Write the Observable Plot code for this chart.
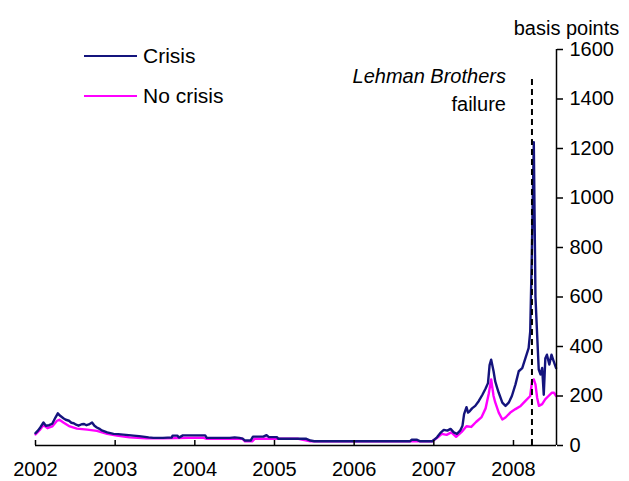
<!DOCTYPE html>
<html>
<head>
<meta charset="utf-8">
<script src="https://cdn.jsdelivr.net/npm/d3@7"></script>
<script src="https://cdn.jsdelivr.net/npm/@observablehq/plot@0.6"></script>
<style>
  html, body { margin: 0; padding: 0; background: #fff; }
  #wrap { position: relative; width: 629px; height: 481px; font-family: "Liberation Sans", Arial, sans-serif; }
  .leg { position: absolute; left: 84px; display: flex; align-items: center; font-size: 21px; color: #000; }
  .leg span.sw { display: inline-block; width: 53px; height: 0; border-top: 2px solid; margin-right: 6px; }
</style>
</head>
<body>
<div id="wrap"></div>
<script>
// ---- data (decimal years, basis points) ----
const crisisYear = [2002.00,2002.03,2002.06,2002.10,2002.13,2002.17,2002.21,2002.25,2002.28,2002.31,2002.35,2002.38,2002.42,2002.45,2002.48,2002.51,2002.54,2002.58,2002.61,2002.64,2002.67,2002.71,2002.74,2002.77,2002.81,2002.84,2002.90,2002.98,2003.04,2003.10,2003.17,2003.23,2003.30,2003.35,2003.42,2003.48,2003.55,2003.60,2003.66,2003.71,2003.72,2003.78,2003.80,2003.85,2004.00,2004.13,2004.15,2004.44,2004.50,2004.56,2004.60,2004.63,2004.70,2004.73,2004.86,2004.90,2004.93,2005.03,2005.05,2005.40,2005.45,2005.50,2006.70,2006.72,2006.79,2006.83,2006.98,2007.01,2007.04,2007.08,2007.125,2007.17,2007.21,2007.25,2007.29,2007.33,2007.36,2007.38,2007.41,2007.43,2007.45,2007.48,2007.52,2007.565,2007.61,2007.65,2007.68,2007.70,2007.72,2007.75,2007.77,2007.795,2007.815,2007.86,2007.90,2007.94,2007.98,2008.025,2008.066,2008.11,2008.15,2008.19,2008.21,2008.23,2008.255,2008.276,2008.297,2008.317,2008.34,2008.36,2008.38,2008.40,2008.42,2008.45,2008.477,2008.505,2008.535];
const crisisBp   = [50,60,73,93,80,82,88,113,130,120,110,104,100,92,90,84,80,86,87,82,85,93,80,73,66,60,53,47,46,44,42,40,38,36,33,31,31,31,32,32,40,40,32,41,41,41,31,31,33,31,28,20,20,36,36,42,34,34,27,27,20,17,17,23,23,17,17,25,33,50,63,60,67,53,47,60,80,127,155,133,138,150,160,180,205,230,252,325,347,300,260,233,213,173,160,173,200,247,300,313,353,393,460,770,1225,600,447,307,287,313,205,353,367,327,367,340,313];

const noCrisisYear = [2002.00,2002.06,2002.10,2002.15,2002.21,2002.27,2002.30,2002.35,2002.43,2002.52,2002.65,2002.77,2002.90,2003.02,2003.18,2003.39,2003.60,2004.10,2004.15,2004.60,2004.63,2004.72,2004.75,2004.95,2005.30,2005.45,2006.98,2007.05,2007.10,2007.16,2007.22,2007.28,2007.35,2007.41,2007.47,2007.53,2007.60,2007.65,2007.69,2007.72,2007.75,2007.77,2007.815,2007.86,2007.90,2007.96,2008.025,2008.09,2008.15,2008.21,2008.233,2008.255,2008.276,2008.297,2008.32,2008.36,2008.40,2008.44,2008.48,2008.51,2008.535];
const noCrisisBp   = [45,65,83,70,77,100,104,93,77,68,64,59,47,40,33,29,29,32,27,27,17,17,27,27,27,17,17,33,47,43,53,35,55,78,75,95,115,150,210,267,200,175,133,105,113,133,147,160,180,200,260,267,247,193,160,167,187,200,213,213,200];

const xDomain = [2002, 2008.54];
const yTicks = [0,200,400,600,800,1000,1200,1400,1600];
const xTicks = [2002,2003,2004,2005,2006,2007,2008];
const lehmanYear = 2008.232;
const lehmanTop = 1495;
const seriesNames = ["Crisis", "No crisis"];
const seriesColors = ["#14147d", "#ff00ff"];
const unitLabel = "basis points";
const lehmanLine1 = "Lehman Brothers";
const lehmanLine2 = "failure";

const crisis = crisisYear.map((x, i) => ({x, y: crisisBp[i]}));
const noCrisis = noCrisisYear.map((x, i) => ({x, y: noCrisisBp[i]}));

const font = "'Liberation Sans', Arial, sans-serif";

const chart = Plot.plot({
  width: 629,
  height: 481,
  marginLeft: 35,
  marginRight: 73,
  marginTop: 49,
  marginBottom: 36,
  style: {fontFamily: font, background: "#fff", color: "#000"},
  x: {domain: xDomain},
  y: {domain: [0, 1600]},
  marks: [
    Plot.line(noCrisis, {x: "x", y: "y", stroke: seriesColors[1], strokeWidth: 2.4}),
    Plot.line(crisis, {x: "x", y: "y", stroke: seriesColors[0], strokeWidth: 2.4}),
    Plot.ruleX([lehmanYear], {y1: 0, y2: lehmanTop, stroke: "#000", strokeWidth: 2, strokeDasharray: "6,4"}),
    Plot.ruleY([0], {stroke: "#000", strokeWidth: 1.5}),
    Plot.ruleX([xDomain[1]], {stroke: "#000", strokeWidth: 1.5}),
    // inward x ticks (no labels)
    Plot.axisX({ticks: xTicks, tickFormat: () => "", tickSize: 5, dy: -5, label: null, strokeWidth: 1.5}),
    // x labels
    Plot.axisX({ticks: xTicks, tickFormat: d => String(d), tickSize: 0, tickPadding: 16, fontSize: 20, label: null}),
    Plot.axisY({anchor: "right", ticks: yTicks, tickFormat: d => String(d), tickSize: 6, tickPadding: 7, fontSize: 20, label: null, strokeWidth: 1.5}),
    Plot.text([unitLabel], {frameAnchor: "top-right", text: d => d, dx: 10, dy: -29, fontSize: 20, textAnchor: "middle", fill: "#000"}),
    Plot.text([lehmanLine1], {x: [lehmanYear], frameAnchor: "top", text: d => d, dx: -26, dy: 19, fontSize: 20, fontStyle: "italic", textAnchor: "end", fill: "#000"}),
    Plot.text([lehmanLine2], {x: [lehmanYear], frameAnchor: "top", text: d => d, dx: -26, dy: 47, fontSize: 20, textAnchor: "end", fill: "#000"})
  ]
});

const wrap = document.getElementById("wrap");
wrap.appendChild(chart);
seriesNames.forEach((name, i) => {
  const d = document.createElement("div");
  d.className = "leg";
  d.style.top = (i === 0 ? 44 : 84) + "px";
  d.innerHTML = `<span class="sw" style="border-color:${seriesColors[i]}"></span><span>${name}</span>`;
  wrap.appendChild(d);
});
</script>
</body>
</html>
